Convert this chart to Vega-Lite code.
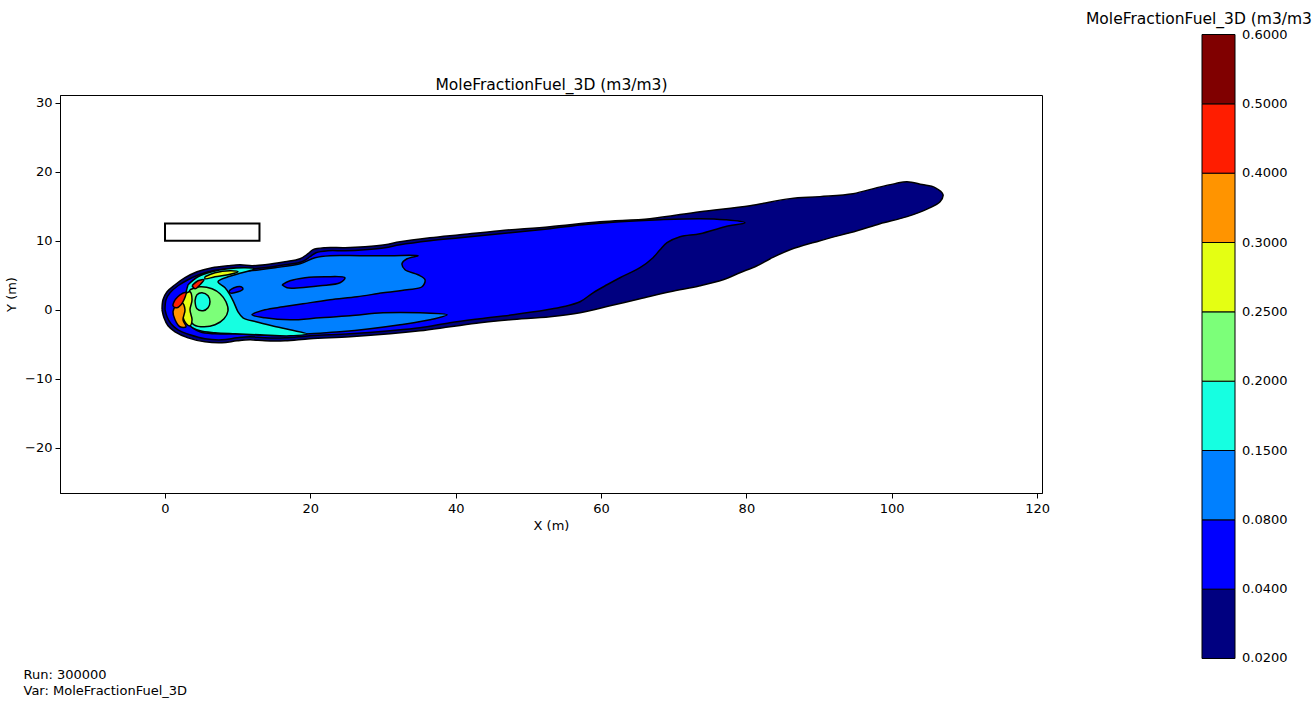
{
"$schema":"https://vega.github.io/schema/vega-lite/v6.json",
"width":982,"height":398,
"autosize":"none",
"padding":{"left":60,"top":95,"right":271,"bottom":209},
"background":"white",
"config":{
 "font":"DejaVu Sans",
 "view":{"stroke":"black","strokeWidth":1},
 "axis":{"labelFont":"DejaVu Sans","labelFontSize":13,"labelColor":"black","titleFont":"DejaVu Sans","titleFontSize":13,"titleFontWeight":"normal","titleColor":"black","tickColor":"black","tickSize":5,"domainColor":"black","grid":false,"labelPadding":4,"labelFlush":false}
},
"layer":[
{
"data":{"values":[
{"poly":"p01","band":0,"x":-0.41,"y":0},{"poly":"p01","band":0,"x":-0.28,"y":1.45},{"poly":"p01","band":0,"x":0.28,"y":2.61},{"poly":"p01","band":0,"x":1.38,"y":3.62},{"poly":"p01","band":0,"x":2.75,"y":4.64},{"poly":"p01","band":0,"x":4.40,"y":5.51},{"poly":"p01","band":0,"x":6.47,"y":6.09},{"poly":"p01","band":0,"x":8.67,"y":6.38},{"poly":"p01","band":0,"x":10.32,"y":6.52},{"poly":"p01","band":0,"x":11.97,"y":6.38},{"poly":"p01","band":0,"x":13.76,"y":6.52},{"poly":"p01","band":0,"x":16.51,"y":6.96},{"poly":"p01","band":0,"x":18.58,"y":7.39},{"poly":"p01","band":0,"x":19.68,"y":8.12},{"poly":"p01","band":0,"x":20.37,"y":8.70},{"poly":"p01","band":0,"x":22.02,"y":8.99},{"poly":"p01","band":0,"x":24.77,"y":8.99},{"poly":"p01","band":0,"x":27.52,"y":9.13},{"poly":"p01","band":0,"x":30.27,"y":9.42},{"poly":"p01","band":0,"x":32.34,"y":9.86},{"poly":"p01","band":0,"x":36.47,"y":10.43},{"poly":"p01","band":0,"x":40.59,"y":10.87},{"poly":"p01","band":0,"x":46.10,"y":11.45},{"poly":"p01","band":0,"x":52.98,"y":12.03},{"poly":"p01","band":0,"x":59.86,"y":12.75},{"poly":"p01","band":0,"x":66.74,"y":13.19},{"poly":"p01","band":0,"x":73.62,"y":14.20},{"poly":"p01","band":0,"x":80.50,"y":15.07},{"poly":"p01","band":0,"x":86.01,"y":16.09},{"poly":"p01","band":0,"x":90.13,"y":16.38},{"poly":"p01","band":0,"x":94.68,"y":16.81},{"poly":"p01","band":0,"x":97.98,"y":17.68},{"poly":"p01","band":0,"x":100.46,"y":18.26},{"poly":"p01","band":0,"x":102.11,"y":18.55},{"poly":"p01","band":0,"x":104.17,"y":18.12},{"poly":"p01","band":0,"x":105.96,"y":17.68},{"poly":"p01","band":0,"x":107.06,"y":16.67},{"poly":"p01","band":0,"x":106.65,"y":15.65},{"poly":"p01","band":0,"x":105.00,"y":14.64},{"poly":"p01","band":0,"x":102.11,"y":13.48},{"poly":"p01","band":0,"x":98.39,"y":12.46},{"poly":"p01","band":0,"x":95.23,"y":11.45},{"poly":"p01","band":0,"x":90.13,"y":10.00},{"poly":"p01","band":0,"x":86.01,"y":8.70},{"poly":"p01","band":0,"x":83.28,"y":7.39},{"poly":"p01","band":0,"x":81.47,"y":6.38},{"poly":"p01","band":0,"x":79.10,"y":5.36},{"poly":"p01","band":0,"x":76.79,"y":4.35},{"poly":"p01","band":0,"x":73.62,"y":3.48},{"poly":"p01","band":0,"x":69.49,"y":2.61},{"poly":"p01","band":0,"x":65.36,"y":1.59},{"poly":"p01","band":0,"x":61.24,"y":0.58},{"poly":"p01","band":0,"x":57.11,"y":-0.43},{"poly":"p01","band":0,"x":52.98,"y":-1.01},{"poly":"p01","band":0,"x":47.48,"y":-1.45},{"poly":"p01","band":0,"x":43.35,"y":-1.88},{"poly":"p01","band":0,"x":39.22,"y":-2.46},{"poly":"p01","band":0,"x":35.09,"y":-3.04},{"poly":"p01","band":0,"x":30.96,"y":-3.48},{"poly":"p01","band":0,"x":25.46,"y":-3.91},{"poly":"p01","band":0,"x":19.95,"y":-4.20},{"poly":"p01","band":0,"x":16.51,"y":-4.49},{"poly":"p01","band":0,"x":13.76,"y":-4.49},{"poly":"p01","band":0,"x":11.70,"y":-4.35},{"poly":"p01","band":0,"x":9.91,"y":-4.49},{"poly":"p01","band":0,"x":7.84,"y":-4.78},{"poly":"p01","band":0,"x":5.50,"y":-4.64},{"poly":"p01","band":0,"x":3.17,"y":-4.06},{"poly":"p01","band":0,"x":1.38,"y":-3.19},{"poly":"p01","band":0,"x":0.41,"y":-2.32},{"poly":"p01","band":0,"x":-0.14,"y":-1.16},{"poly":"p01","band":0,"x":-0.41,"y":0},
{"poly":"p02","band":1,"x":0,"y":0},{"poly":"p02","band":1,"x":0.14,"y":1.45},{"poly":"p02","band":1,"x":0.69,"y":2.46},{"poly":"p02","band":1,"x":1.79,"y":3.48},{"poly":"p02","band":1,"x":3.17,"y":4.35},{"poly":"p02","band":1,"x":4.68,"y":5.07},{"poly":"p02","band":1,"x":6.61,"y":5.65},{"poly":"p02","band":1,"x":8.67,"y":5.94},{"poly":"p02","band":1,"x":10.32,"y":6.09},{"poly":"p02","band":1,"x":11.97,"y":5.94},{"poly":"p02","band":1,"x":13.76,"y":6.09},{"poly":"p02","band":1,"x":16.51,"y":6.52},{"poly":"p02","band":1,"x":18.85,"y":6.96},{"poly":"p02","band":1,"x":19.95,"y":7.68},{"poly":"p02","band":1,"x":20.78,"y":8.26},{"poly":"p02","band":1,"x":22.43,"y":8.55},{"poly":"p02","band":1,"x":24.77,"y":8.55},{"poly":"p02","band":1,"x":27.52,"y":8.70},{"poly":"p02","band":1,"x":30.27,"y":8.99},{"poly":"p02","band":1,"x":32.34,"y":9.42},{"poly":"p02","band":1,"x":36.47,"y":10.00},{"poly":"p02","band":1,"x":40.59,"y":10.43},{"poly":"p02","band":1,"x":46.10,"y":11.01},{"poly":"p02","band":1,"x":52.98,"y":11.74},{"poly":"p02","band":1,"x":57.52,"y":12.32},{"poly":"p02","band":1,"x":62.61,"y":12.75},{"poly":"p02","band":1,"x":68.12,"y":13.04},{"poly":"p02","band":1,"x":73.62,"y":13.19},{"poly":"p02","band":1,"x":77.06,"y":13.04},{"poly":"p02","band":1,"x":79.81,"y":12.61},{"poly":"p02","band":1,"x":77.06,"y":12.03},{"poly":"p02","band":1,"x":73.62,"y":11.01},{"poly":"p02","band":1,"x":70.87,"y":10.58},{"poly":"p02","band":1,"x":69.08,"y":9.71},{"poly":"p02","band":1,"x":68.12,"y":8.70},{"poly":"p02","band":1,"x":67.15,"y":7.54},{"poly":"p02","band":1,"x":65.36,"y":6.09},{"poly":"p02","band":1,"x":62.61,"y":4.64},{"poly":"p02","band":1,"x":60.82,"y":3.62},{"poly":"p02","band":1,"x":58.90,"y":2.46},{"poly":"p02","band":1,"x":57.11,"y":1.16},{"poly":"p02","band":1,"x":54.77,"y":0.43},{"poly":"p02","band":1,"x":52.57,"y":0},{"poly":"p02","band":1,"x":47.89,"y":-0.72},{"poly":"p02","band":1,"x":43.35,"y":-1.30},{"poly":"p02","band":1,"x":39.22,"y":-1.88},{"poly":"p02","band":1,"x":35.09,"y":-2.61},{"poly":"p02","band":1,"x":30.96,"y":-3.04},{"poly":"p02","band":1,"x":25.46,"y":-3.48},{"poly":"p02","band":1,"x":19.95,"y":-3.77},{"poly":"p02","band":1,"x":16.51,"y":-4.06},{"poly":"p02","band":1,"x":13.76,"y":-4.06},{"poly":"p02","band":1,"x":11.70,"y":-3.91},{"poly":"p02","band":1,"x":9.91,"y":-4.06},{"poly":"p02","band":1,"x":7.84,"y":-4.35},{"poly":"p02","band":1,"x":5.50,"y":-4.20},{"poly":"p02","band":1,"x":3.44,"y":-3.62},{"poly":"p02","band":1,"x":1.79,"y":-2.90},{"poly":"p02","band":1,"x":0.83,"y":-2.03},{"poly":"p02","band":1,"x":0.28,"y":-1.01},{"poly":"p02","band":1,"x":0,"y":0},
{"poly":"p03","band":2,"x":4.13,"y":4.35},{"poly":"p03","band":2,"x":6.19,"y":5.51},{"poly":"p03","band":2,"x":8.94,"y":5.51},{"poly":"p03","band":2,"x":11.70,"y":5.65},{"poly":"p03","band":2,"x":15.14,"y":6.09},{"poly":"p03","band":2,"x":18.58,"y":6.67},{"poly":"p03","band":2,"x":20.64,"y":7.54},{"poly":"p03","band":2,"x":22.71,"y":7.83},{"poly":"p03","band":2,"x":26.83,"y":7.83},{"poly":"p03","band":2,"x":30.96,"y":7.83},{"poly":"p03","band":2,"x":34.82,"y":7.83},{"poly":"p03","band":2,"x":33.30,"y":7.39},{"poly":"p03","band":2,"x":32.61,"y":6.67},{"poly":"p03","band":2,"x":33.03,"y":5.80},{"poly":"p03","band":2,"x":34.82,"y":5.07},{"poly":"p03","band":2,"x":35.78,"y":4.35},{"poly":"p03","band":2,"x":35.37,"y":3.33},{"poly":"p03","band":2,"x":33.30,"y":2.90},{"poly":"p03","band":2,"x":30.00,"y":2.46},{"poly":"p03","band":2,"x":26.42,"y":1.88},{"poly":"p03","band":2,"x":22.71,"y":1.45},{"poly":"p03","band":2,"x":18.99,"y":0.87},{"poly":"p03","band":2,"x":16.24,"y":0.43},{"poly":"p03","band":2,"x":13.76,"y":0},{"poly":"p03","band":2,"x":11.97,"y":-0.72},{"poly":"p03","band":2,"x":13.76,"y":-1.16},{"poly":"p03","band":2,"x":17.20,"y":-1.45},{"poly":"p03","band":2,"x":21.33,"y":-1.16},{"poly":"p03","band":2,"x":25.46,"y":-0.87},{"poly":"p03","band":2,"x":30.00,"y":-0.43},{"poly":"p03","band":2,"x":35.09,"y":-0.43},{"poly":"p03","band":2,"x":38.81,"y":-0.72},{"poly":"p03","band":2,"x":36.47,"y":-1.45},{"poly":"p03","band":2,"x":32.34,"y":-2.17},{"poly":"p03","band":2,"x":28.21,"y":-2.75},{"poly":"p03","band":2,"x":24.08,"y":-3.19},{"poly":"p03","band":2,"x":19.95,"y":-3.48},{"poly":"p03","band":2,"x":15.83,"y":-3.77},{"poly":"p03","band":2,"x":12.38,"y":-3.62},{"poly":"p03","band":2,"x":9.63,"y":-3.48},{"poly":"p03","band":2,"x":6.88,"y":-3.48},{"poly":"p03","band":2,"x":4.82,"y":-3.19},{"poly":"p03","band":2,"x":3.44,"y":-2.17},{"poly":"p03","band":2,"x":3.17,"y":0},{"poly":"p03","band":2,"x":3.44,"y":2.61},{"poly":"p03","band":2,"x":4.13,"y":4.35},
{"poly":"p04","band":1,"x":16.10,"y":3.62},{"poly":"p04","band":1,"x":17.20,"y":4.20},{"poly":"p04","band":1,"x":19.27,"y":4.64},{"poly":"p04","band":1,"x":22.02,"y":4.78},{"poly":"p04","band":1,"x":24.77,"y":4.64},{"poly":"p04","band":1,"x":24.08,"y":3.91},{"poly":"p04","band":1,"x":21.33,"y":3.48},{"poly":"p04","band":1,"x":18.58,"y":3.19},{"poly":"p04","band":1,"x":16.79,"y":3.19},{"poly":"p04","band":1,"x":16.10,"y":3.62},
{"poly":"p05","band":1,"x":8.81,"y":2.75},{"poly":"p05","band":1,"x":9.50,"y":3.19},{"poly":"p05","band":1,"x":10.46,"y":3.33},{"poly":"p05","band":1,"x":10.73,"y":3.04},{"poly":"p05","band":1,"x":10.05,"y":2.61},{"poly":"p05","band":1,"x":8.94,"y":2.46},{"poly":"p05","band":1,"x":8.81,"y":2.75},
{"poly":"p06","band":3,"x":3.17,"y":3.62},{"poly":"p06","band":3,"x":4.54,"y":4.78},{"poly":"p06","band":3,"x":6.47,"y":5.51},{"poly":"p06","band":3,"x":8.67,"y":5.94},{"poly":"p06","band":3,"x":11.01,"y":6.09},{"poly":"p06","band":3,"x":12.38,"y":5.94},{"poly":"p06","band":3,"x":10.60,"y":5.36},{"poly":"p06","band":3,"x":8.67,"y":4.78},{"poly":"p06","band":3,"x":7.29,"y":4.06},{"poly":"p06","band":3,"x":8.26,"y":3.19},{"poly":"p06","band":3,"x":8.94,"y":2.17},{"poly":"p06","band":3,"x":9.50,"y":1.01},{"poly":"p06","band":3,"x":10.05,"y":-0.29},{"poly":"p06","band":3,"x":10.73,"y":-1.16},{"poly":"p06","band":3,"x":12.52,"y":-1.74},{"poly":"p06","band":3,"x":14.72,"y":-2.32},{"poly":"p06","band":3,"x":17.20,"y":-2.90},{"poly":"p06","band":3,"x":19.54,"y":-3.48},{"poly":"p06","band":3,"x":17.20,"y":-3.77},{"poly":"p06","band":3,"x":13.07,"y":-3.62},{"poly":"p06","band":3,"x":9.63,"y":-3.48},{"poly":"p06","band":3,"x":6.88,"y":-3.33},{"poly":"p06","band":3,"x":4.82,"y":-3.04},{"poly":"p06","band":3,"x":3.44,"y":-2.32},{"poly":"p06","band":3,"x":2.75,"y":-0.58},{"poly":"p06","band":3,"x":2.75,"y":1.74},{"poly":"p06","band":3,"x":3.17,"y":3.62},
{"poly":"p07","band":4,"x":3.44,"y":2.90},{"poly":"p07","band":4,"x":4.82,"y":3.33},{"poly":"p07","band":4,"x":6.47,"y":3.04},{"poly":"p07","band":4,"x":7.57,"y":2.32},{"poly":"p07","band":4,"x":8.39,"y":1.16},{"poly":"p07","band":4,"x":8.67,"y":-0.14},{"poly":"p07","band":4,"x":8.12,"y":-1.30},{"poly":"p07","band":4,"x":6.88,"y":-2.17},{"poly":"p07","band":4,"x":5.37,"y":-2.46},{"poly":"p07","band":4,"x":3.99,"y":-2.17},{"poly":"p07","band":4,"x":3.17,"y":-1.01},{"poly":"p07","band":4,"x":3.03,"y":0.72},{"poly":"p07","band":4,"x":3.17,"y":2.03},{"poly":"p07","band":4,"x":3.44,"y":2.90},
{"poly":"p08","band":3,"x":4.13,"y":1.30},{"poly":"p08","band":3,"x":4.40,"y":2.17},{"poly":"p08","band":3,"x":5.09,"y":2.46},{"poly":"p08","band":3,"x":5.92,"y":2.03},{"poly":"p08","band":3,"x":6.19,"y":1.16},{"poly":"p08","band":3,"x":5.92,"y":0.29},{"poly":"p08","band":3,"x":5.23,"y":-0.14},{"poly":"p08","band":3,"x":4.40,"y":0.14},{"poly":"p08","band":3,"x":4.13,"y":1.30},
{"poly":"p09","band":5,"x":2.61,"y":2.17},{"poly":"p09","band":5,"x":3.44,"y":2.61},{"poly":"p09","band":5,"x":3.72,"y":1.45},{"poly":"p09","band":5,"x":3.44,"y":0},{"poly":"p09","band":5,"x":3.72,"y":-1.45},{"poly":"p09","band":5,"x":3.44,"y":-2.32},{"poly":"p09","band":5,"x":2.75,"y":-1.74},{"poly":"p09","band":5,"x":2.34,"y":-0.29},{"poly":"p09","band":5,"x":2.34,"y":1.16},{"poly":"p09","band":5,"x":2.61,"y":2.17},
{"poly":"p10","band":5,"x":5.50,"y":4.78},{"poly":"p10","band":5,"x":6.88,"y":5.36},{"poly":"p10","band":5,"x":8.94,"y":5.65},{"poly":"p10","band":5,"x":10.05,"y":5.51},{"poly":"p10","band":5,"x":8.67,"y":5.07},{"poly":"p10","band":5,"x":6.88,"y":4.78},{"poly":"p10","band":5,"x":5.50,"y":4.49},{"poly":"p10","band":5,"x":5.50,"y":4.78},
{"poly":"p11","band":6,"x":1.51,"y":0.72},{"poly":"p11","band":6,"x":2.34,"y":1.01},{"poly":"p11","band":6,"x":2.75,"y":0},{"poly":"p11","band":6,"x":2.48,"y":-1.45},{"poly":"p11","band":6,"x":2.89,"y":-2.46},{"poly":"p11","band":6,"x":2.06,"y":-2.46},{"poly":"p11","band":6,"x":1.38,"y":-1.45},{"poly":"p11","band":6,"x":1.10,"y":-0.29},{"poly":"p11","band":6,"x":1.51,"y":0.72},
{"poly":"p12","band":7,"x":1.38,"y":1.45},{"poly":"p12","band":7,"x":2.06,"y":2.17},{"poly":"p12","band":7,"x":2.89,"y":2.46},{"poly":"p12","band":7,"x":2.61,"y":1.45},{"poly":"p12","band":7,"x":2.20,"y":0.72},{"poly":"p12","band":7,"x":1.65,"y":0.29},{"poly":"p12","band":7,"x":1.10,"y":0.58},{"poly":"p12","band":7,"x":1.38,"y":1.45},
{"poly":"p13","band":7,"x":3.72,"y":3.48},{"poly":"p13","band":7,"x":4.54,"y":4.20},{"poly":"p13","band":7,"x":5.37,"y":4.35},{"poly":"p13","band":7,"x":4.82,"y":3.62},{"poly":"p13","band":7,"x":4.13,"y":3.04},{"poly":"p13","band":7,"x":3.72,"y":3.48}
]},
"mark":{"type":"line","interpolate":"catmull-rom","stroke":"black","strokeWidth":1.5,"strokeJoin":"round"},
"encoding":{
 "x":{"field":"x","type":"quantitative","scale":{"domain":[-14.45,120.68],"nice":false,"zero":false},
  "axis":{"orient":"bottom","title":"X (m)","values":[0,20,40,60,80,100,120],"titlePadding":4}},
 "y":{"field":"y","type":"quantitative","scale":{"domain":[-26.52,31.09],"nice":false,"zero":false},
  "axis":{"orient":"left","title":"Y (m)","values":[-20,-10,0,10,20,30],"labelPadding":3,"titlePadding":6}},
 "detail":{"field":"poly","type":"nominal"},
 "order":{"value":null},
 "fill":{"field":"band","type":"quantitative",
  "scale":{"type":"quantize","domain":[0,9],"nice":false,"zero":false,
   "range":["#000080","#0000ff","#0080ff","#16ffe1","#7cff79","#e4ff13","#ff9400","#ff1d00","#800000"]},
  "legend":{"type":"gradient","title":"MoleFractionFuel_3D (m3/m3)","orient":"none","legendX":1026,"legendY":-83,"direction":"vertical",
   "gradientLength":624,"gradientThickness":33,"gradientStrokeColor":"black","gradientStrokeWidth":1,
   "values":[0,0.0001,1,2,3,4,5,6,7,8,8.9999],
   "labelExpr":"datum.value == 0 ? '' : ['0.0200','0.0400','0.0800','0.1500','0.2000','0.2500','0.3000','0.4000','0.5000','0.6000'][round(datum.value)]",
   "labelFont":"DejaVu Sans","labelFontSize":13,"labelColor":"black","labelOffset":7,"labelBaseline":"middle","labelOverlap":false,
   "titleFont":"DejaVu Sans","titleFontSize":15.5,"titleFontWeight":"normal","titleColor":"black","titleAnchor":"start","titleAlign":"center","titleBaseline":"top","titlePadding":7,"titleLimit":1000,"padding":0}}
}
},
{
"data":{"values":[{"x0":0,"x1":13,"y0":10,"y1":12.5}]},
"mark":{"type":"rect","filled":false,"stroke":"black","strokeWidth":2},
"encoding":{
 "x":{"field":"x0","type":"quantitative","axis":{"orient":"top","domain":false,"ticks":false,"labels":false,"grid":false,
   "title":"MoleFractionFuel_3D (m3/m3)","titleX":491,"titleY":-6,"titleAlign":"center","titleBaseline":"alphabetic","titleAngle":0,"titleFontSize":15.5}},
 "x2":{"field":"x1"},
 "y":{"field":"y0","type":"quantitative","axis":{"orient":"left","domain":false,"ticks":false,"labels":false,"grid":false,
   "title":["Run: 300000","Var: MoleFractionFuel_3D"],"titleX":-37,"titleY":583,"titleAngle":0,"titleAlign":"left","titleBaseline":"alphabetic","titleLineHeight":16,"titleFontSize":13}},
 "y2":{"field":"y1"}
}
}
],
"resolve":{"axis":{"x":"independent","y":"independent"}}
}
